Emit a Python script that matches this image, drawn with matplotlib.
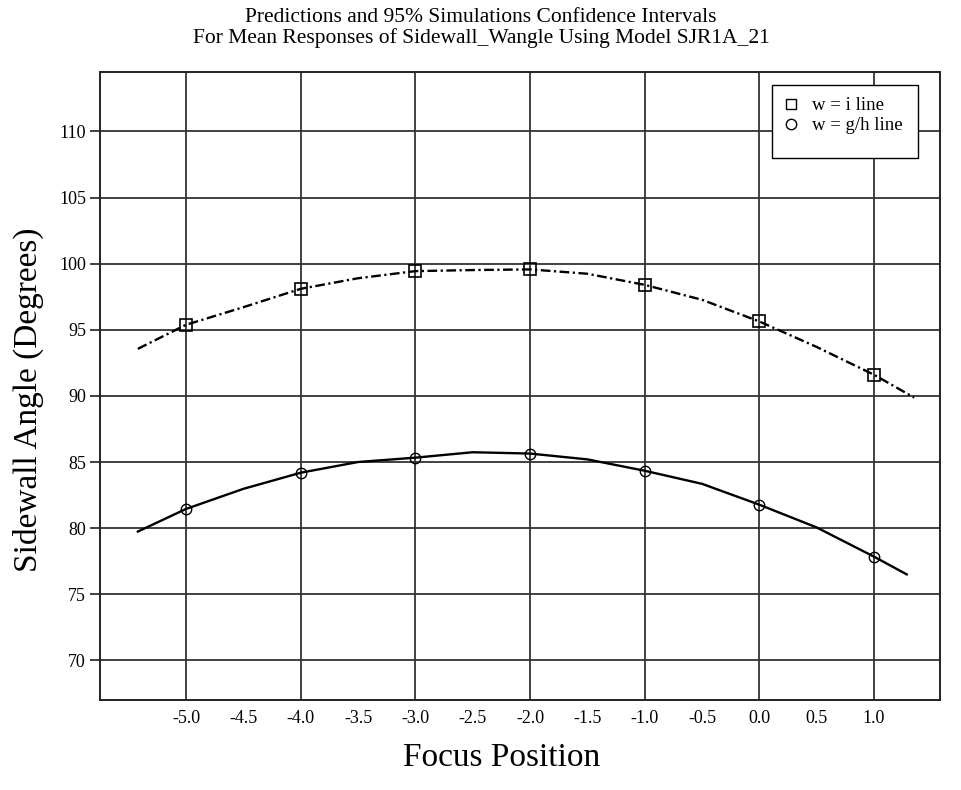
import matplotlib
matplotlib.use("Agg")
import matplotlib.pyplot as plt
from matplotlib.lines import Line2D
from matplotlib.patches import Rectangle

plt.rcParams['font.family'] = ['Liberation Serif', 'DejaVu Serif']
plt.rcParams['lines.scale_dashes'] = False

# Data
x_i = [-5.42, -5.0, -4.5, -4.0, -3.5, -3.0, -2.5, -2.0, -1.5, -1.0, -0.5, 0.0, 0.5, 1.0, 1.35]
y_i = [93.56, 95.38, 96.71, 98.10, 98.90, 99.44, 99.52, 99.57, 99.24, 98.40, 97.27, 95.63, 93.70, 91.60, 89.87]
x_gh = [-5.42, -5.0, -4.5, -4.0, -3.5, -3.0, -2.5, -2.0, -1.5, -1.0, -0.5, 0.0, 0.5, 1.0, 1.285]
y_gh = [79.74, 81.45, 82.97, 84.19, 85.00, 85.33, 85.74, 85.64, 85.20, 84.34, 83.35, 81.77, 80.05, 77.84, 76.50]
marker_x = [-5.0, -4.0, -3.0, -2.0, -1.0, 0.0, 1.0]
xtick_vals = [-5.0, -4.5, -4.0, -3.5, -3.0, -2.5, -2.0, -1.5, -1.0, -0.5, 0.0, 0.5, 1.0]
ytick_vals = [70, 75, 80, 85, 90, 95, 100, 105, 110]

title_lines = ["Predictions and 95% Simulations Confidence Intervals",
               "For Mean Responses of Sidewall_Wangle Using Model SJR1A_21"]
legend_labels = ["w = i line", "w = g/h line"]

W, H = 962, 790
fig = plt.figure(figsize=(W/100, H/100), dpi=100)
ax = fig.add_axes([100/W, 1 - 700/H, 840/W, 628/H])

ax.set_xlim(-5.75, 1.575)
ax.set_ylim(67.0, 114.5)

gridc = '#333333'
for xv in marker_x:
    ax.axvline(xv, color=gridc, lw=1.3, zorder=1)
for yv in ytick_vals:
    ax.axhline(yv, color=gridc, lw=1.3, zorder=1)

ax.plot(x_i, y_i, color='black', lw=1.7, linestyle=(0, (7, 2.5, 1.6, 2.5)), zorder=3)
ax.plot(x_gh, y_gh, color='black', lw=1.7, zorder=3)

mi = [y_i[x_i.index(v)] for v in marker_x]
mg = [y_gh[x_gh.index(v)] for v in marker_x]
ax.plot(marker_x, mi, linestyle='none', marker='s', ms=8, mfc='none', mec='black', mew=1.2, zorder=4)
ax.plot(marker_x, mg, linestyle='none', marker='o', ms=7.5, mfc='none', mec='black', mew=1.0, zorder=4)

ax.set_xticks(xtick_vals)
ax.set_xticklabels([f"{v:.1f}" for v in xtick_vals])
ax.set_yticks(ytick_vals)
ax.set_yticklabels([str(v) for v in ytick_vals])
ax.tick_params(axis='x', length=0, pad=7, labelsize=13)
ax.tick_params(axis='y', length=7, width=1.3, color=gridc, pad=3, labelsize=13)

for s in ax.spines.values():
    s.set_linewidth(1.4)
    s.set_color('#222222')

ax.set_xlabel("Focus Position", fontsize=24)
ax.xaxis.set_label_coords((502-100)/840, (700-758)/628)
ax.xaxis.label.set_va('center')
ax.set_ylabel("Sidewall Angle (Degrees)", fontsize=24)
ax.yaxis.set_label_coords((28-100)/840, (700-400)/628)
ax.yaxis.label.set_va('center')

fig.text(0.5, 1 - 18/H, title_lines[0], ha='center', va='center', fontsize=15.5)
fig.text(0.5, 1 - 38/H, title_lines[1], ha='center', va='center', fontsize=15.5)

# legend frame (box extends below entries, as in the reference)
box = Rectangle((772/W, 1 - 158/H), (918-772)/W, (158-85)/H, transform=fig.transFigure,
                facecolor='white', edgecolor='black', lw=1.0, zorder=9)
ax.add_patch(box)
box.set_clip_on(False)

handles = [Line2D([], [], linestyle='none', marker='s', ms=7.5, mfc='none', mec='black', mew=1.0),
           Line2D([], [], linestyle='none', marker='o', ms=7.5, mfc='none', mec='black', mew=1.0)]
leg = ax.legend(handles, legend_labels, loc='upper left',
                bbox_to_anchor=((782-100)/840, (700-97)/628),
                fontsize=13.5, frameon=False,
                handlelength=1.0, handletextpad=0.6, borderpad=0.0, labelspacing=0.17, borderaxespad=0)
leg.set_zorder(10)

fig.savefig("out.png", dpi=100)
